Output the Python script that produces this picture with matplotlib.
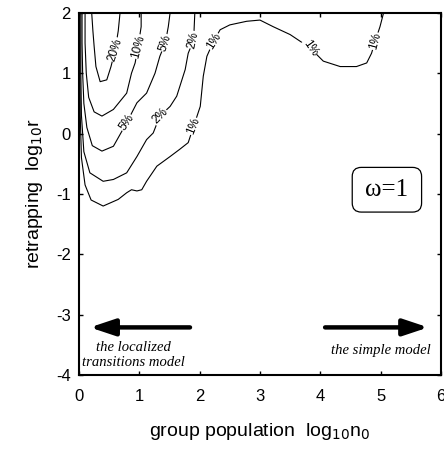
import matplotlib
matplotlib.use("Agg")
import matplotlib.pyplot as plt
from matplotlib.patches import FancyBboxPatch

plt.rcParams["axes.unicode_minus"] = False

# contour polylines (x = log10 n0, y = log10 r)
c20_x = [0.21, 0.23, 0.25, 0.28, 0.35, 0.46, 0.53, 0.60, 0.65, 0.68]
c20_y = [2.00, 1.70, 1.45, 1.11, 0.86, 0.89, 1.11, 1.39, 1.70, 2.00]

c10_x = [0.10, 0.10, 0.12, 0.16, 0.25, 0.38, 0.57, 0.79, 0.87, 0.93, 0.98, 1.03, 1.03]
c10_y = [2.00, 1.50, 1.00, 0.60, 0.36, 0.29, 0.40, 0.67, 1.00, 1.17, 1.44, 1.77, 2.00]

c5_x = [0.05, 0.05, 0.06, 0.08, 0.13, 0.22, 0.38, 0.57, 0.79, 0.96, 1.12, 1.26, 1.34, 1.43, 1.48, 1.51]
c5_y = [2.00, 1.50, 1.00, 0.50, 0.10, -0.20, -0.29, -0.21, 0.18, 0.51, 0.67, 1.00, 1.28, 1.50, 1.77, 2.00]

c2_x = [0.03, 0.03, 0.04, 0.08, 0.18, 0.40, 0.57, 0.79, 0.96, 1.12, 1.23, 1.34, 1.51, 1.62, 1.76, 1.81, 1.90, 1.92]
c2_y = [2.00, 1.00, 0.30, -0.30, -0.65, -0.79, -0.76, -0.65, -0.38, -0.10, 0.01, 0.29, 0.45, 0.62, 1.06, 1.33, 1.55, 2.00]

c1_x = [0.01, 0.02, 0.04, 0.10, 0.20, 0.40, 0.65, 0.79, 0.87, 0.96, 1.04, 1.12, 1.29, 1.51, 1.67,
        1.81, 1.90, 2.01, 2.06, 2.12, 2.23, 2.34, 2.50, 2.78, 3.00, 3.22, 3.50, 3.83, 4.05, 4.33,
        4.60, 4.77, 4.85, 4.91, 4.99, 5.05]
c1_y = [2.00, 0.30, -0.40, -0.85, -1.10, -1.20, -1.09, -0.98, -0.93, -0.95, -0.93, -0.79, -0.54, -0.38, -0.26,
        -0.15, 0.12, 0.45, 0.95, 1.28, 1.53, 1.72, 1.80, 1.86, 1.88, 1.77, 1.64, 1.42, 1.20, 1.11,
        1.11, 1.17, 1.33, 1.53, 1.77, 2.00]

# inline labels: text, x, y, rotation
lbl_text = ["20%", "10%", "5%", "2%", "1%", "5%", "2%", "1%", "1%", "1%"]
lbl_x = [0.60, 0.98, 1.43, 1.90, 2.23, 0.79, 1.34, 1.90, 3.83, 4.91]
lbl_y = [1.39, 1.44, 1.50, 1.55, 1.53, 0.18, 0.29, 0.12, 1.42, 1.53]
lbl_rot = [72, 75, 72, 78, 58, 55, 45, 68, -55, 75]

fig = plt.figure(figsize=(4.44, 4.58), dpi=100)
ax = fig.add_axes([0.178, 0.181, 0.815, 0.791])

for cx, cy in [(c20_x, c20_y), (c10_x, c10_y), (c5_x, c5_y), (c2_x, c2_y), (c1_x, c1_y)]:
    ax.plot(cx, cy, color="black", lw=0.8)

for t, x, y, r in zip(lbl_text, lbl_x, lbl_y, lbl_rot):
    ax.text(x, y, t, rotation=r, ha="center", va="center", fontsize=8.5,
            family="Liberation Sans", rotation_mode="anchor",
            bbox=dict(boxstyle="square,pad=0.05", fc="white", ec="none"))

# model arrows
ax.annotate("", xy=(0.18, -3.21), xytext=(1.84, -3.21),
            arrowprops=dict(arrowstyle="-|>,head_length=1.5,head_width=0.5",
                            lw=3.2, color="black", shrinkA=0, shrinkB=0))
ax.annotate("", xy=(5.79, -3.21), xytext=(4.08, -3.21),
            arrowprops=dict(arrowstyle="-|>,head_length=1.5,head_width=0.5",
                            lw=3.2, color="black", shrinkA=0, shrinkB=0))
ax.text(0.9, -3.66, "the localized\ntransitions model", ha="center", va="center",
        fontsize=10.5, family="Liberation Serif", style="italic", linespacing=1.2)
ax.text(5.0, -3.59, "the simple model", ha="center", va="center",
        fontsize=10.5, family="Liberation Serif", style="italic")

# omega box
box = FancyBboxPatch((4.53, -1.3), 1.15, 0.74, boxstyle="round,pad=0,rounding_size=0.15",
                     fc="white", ec="black", lw=0.9)
ax.add_patch(box)
ax.text(5.105, -0.93, "ω=1", ha="center", va="center", fontsize=18, family="Liberation Serif")

ax.set_xlim(0, 6)
ax.set_ylim(-4, 2)
ax.set_xticks(range(0, 7))
ax.set_yticks(range(-4, 3))
ax.tick_params(direction="in", length=3, width=1, labelsize=12, top=True, right=True)
ax.tick_params(axis="x", pad=10)
ax.tick_params(axis="y", pad=6)
for lab in ax.get_xticklabels() + ax.get_yticklabels():
    lab.set_family("Liberation Sans")
for s in ax.spines.values():
    s.set_linewidth(1.5)

ax.set_xlabel("group population  log$_{10}$n$_0$", fontsize=14, family="Liberation Sans", labelpad=12)
ax.set_ylabel("retrapping  log$_{10}$r", fontsize=14, family="Liberation Sans", labelpad=8)

fig.savefig("out.png", dpi=100)
